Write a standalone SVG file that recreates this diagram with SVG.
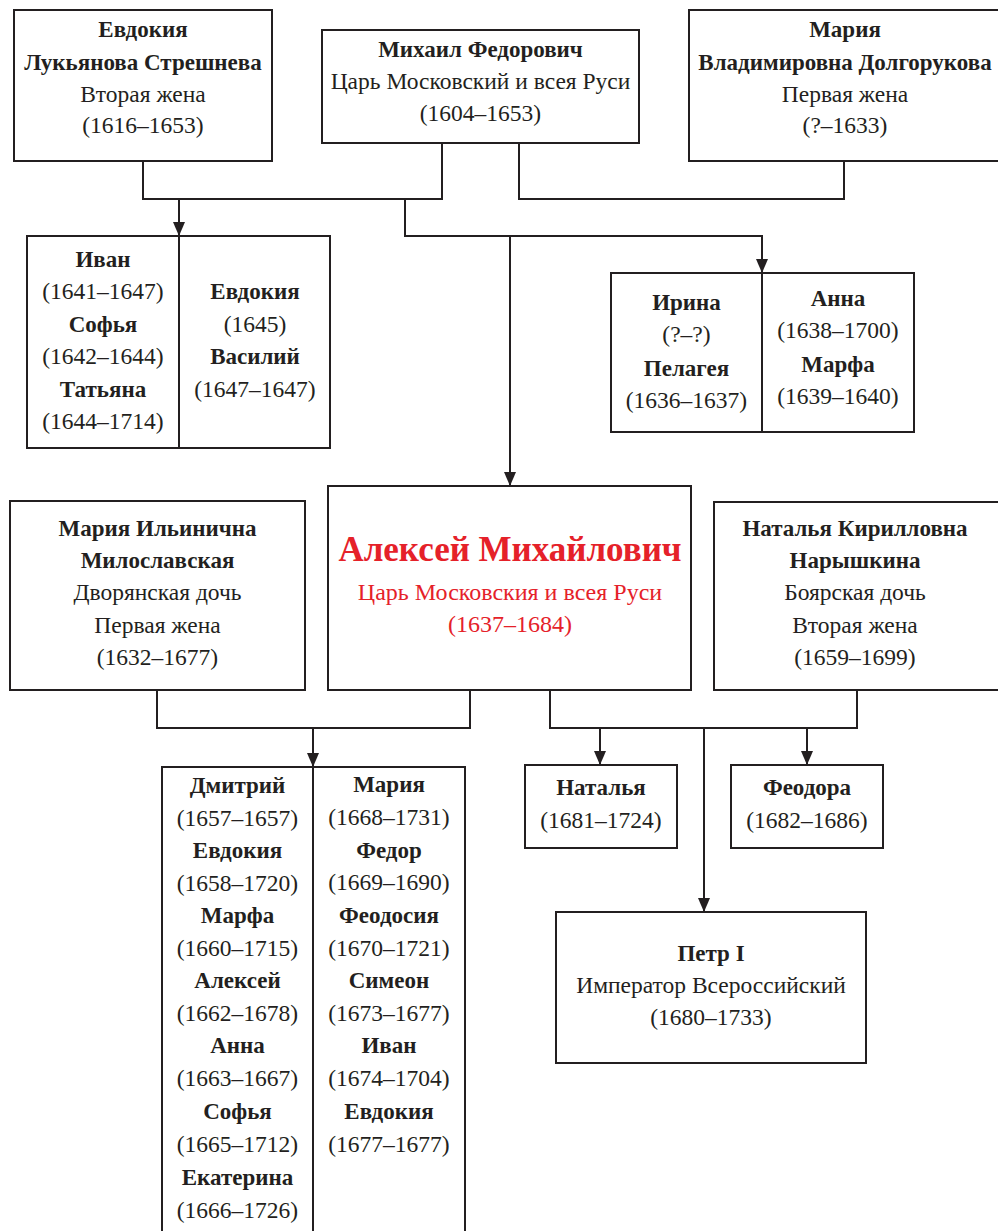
<svg xmlns="http://www.w3.org/2000/svg" width="998" height="1231" viewBox="0 0 998 1231">
<defs>
<marker id="arr" viewBox="0 0 14 12" refX="14" refY="6" markerWidth="14" markerHeight="12" markerUnits="userSpaceOnUse" orient="auto">
<path d="M0,0 L14,6 L0,12 Z" fill="#231f20"/>
</marker>
<style>
rect{fill:#fff;stroke:#231f20;stroke-width:2}
.div{stroke:#231f20;stroke-width:2}
.c path{fill:none;stroke:#231f20;stroke-width:2}
text{font-family:'Liberation Serif','DejaVu Serif',serif;font-size:23.5px;fill:#231f20;text-anchor:middle}
.b{font-weight:bold;font-size:23px}
.red{fill:#e52129;font-size:24px}
.big{font-size:35px;font-weight:bold}
</style>
</defs>
<rect x="0" y="0" width="998" height="1231" style="stroke:none"/>

<g id="connectors" class="c">
<path d="M143,161 V199 H442 V143"/>
<path d="M179,199 V236" marker-end="url(#arr)"/>
<path d="M519,143 V199 H844 V161"/>
<path d="M405,199 V236 H762 V273" marker-end="url(#arr)"/>
<path d="M510,236 V486" marker-end="url(#arr)"/>
<path d="M157,690 V728 H470 V690"/>
<path d="M313,728 V767" marker-end="url(#arr)"/>
<path d="M550,690 V728 H857 V690"/>
<path d="M600,728 V765" marker-end="url(#arr)"/>
<path d="M807,728 V765" marker-end="url(#arr)"/>
<path d="M704,728 V912" marker-end="url(#arr)"/>
</g>

<g id="evdokia-streshneva">
<rect x="14" y="10" width="258" height="151"/>
<text x="143" y="37" class="b">Евдокия</text>
<text x="143" y="70" class="b">Лукьянова Стрешнева</text>
<text x="143" y="102">Вторая жена</text>
<text x="143" y="133">(1616–1653)</text>
</g>

<g id="mikhail">
<rect x="322" y="30" width="317" height="113"/>
<text x="480.5" y="57" class="b">Михаил Федорович</text>
<text x="480.5" y="89">Царь Московский и всея Руси</text>
<text x="480.5" y="121">(1604–1653)</text>
</g>

<g id="maria-dolgorukova">
<rect x="689" y="10" width="312" height="151"/>
<text x="845" y="37" class="b">Мария</text>
<text x="845" y="70" class="b">Владимировна Долгорукова</text>
<text x="845" y="102">Первая жена</text>
<text x="845" y="133">(?–1633)</text>
</g>

<g id="children-streshneva">
<rect x="27" y="236" width="303" height="212"/>
<line class="div" x1="179" y1="236" x2="179" y2="448"/>
<text x="103" y="267" class="b">Иван</text>
<text x="103" y="299">(1641–1647)</text>
<text x="103" y="332" class="b">Софья</text>
<text x="103" y="364">(1642–1644)</text>
<text x="103" y="397" class="b">Татьяна</text>
<text x="103" y="429">(1644–1714)</text>
<text x="255" y="299" class="b">Евдокия</text>
<text x="255" y="332">(1645)</text>
<text x="255" y="364" class="b">Василий</text>
<text x="255" y="397">(1647–1647)</text>
</g>

<g id="children-dolgorukova">
<rect x="611" y="273" width="303" height="159"/>
<line class="div" x1="762" y1="273" x2="762" y2="432"/>
<text x="686.5" y="310" class="b">Ирина</text>
<text x="686.5" y="342">(?–?)</text>
<text x="686.5" y="376" class="b">Пелагея</text>
<text x="686.5" y="408">(1636–1637)</text>
<text x="838" y="306" class="b">Анна</text>
<text x="838" y="338">(1638–1700)</text>
<text x="838" y="372" class="b">Марфа</text>
<text x="838" y="404">(1639–1640)</text>
</g>

<g id="maria-miloslavskaya">
<rect x="10" y="501" width="295" height="189"/>
<text x="157.5" y="536" class="b">Мария Ильинична</text>
<text x="157.5" y="568" class="b">Милославская</text>
<text x="157.5" y="600">Дворянская дочь</text>
<text x="157.5" y="633">Первая жена</text>
<text x="157.5" y="665">(1632–1677)</text>
</g>

<g id="aleksei">
<rect x="328" y="486" width="363" height="204"/>
<text x="510" y="561" class="red big">Алексей Михайлович</text>
<text x="510" y="600" class="red">Царь Московския и всея Руси</text>
<text x="510" y="632" class="red">(1637–1684)</text>
</g>

<g id="natalya-naryshkina">
<rect x="714" y="502" width="290" height="188"/>
<text x="855" y="536" class="b">Наталья Кирилловна</text>
<text x="855" y="568" class="b">Нарышкина</text>
<text x="855" y="600">Боярская дочь</text>
<text x="855" y="633">Вторая жена</text>
<text x="855" y="665">(1659–1699)</text>
</g>

<g id="children-miloslavskaya">
<rect x="162" y="767" width="303" height="480"/>
<line class="div" x1="313" y1="767" x2="313" y2="1240"/>
<text x="237.5" y="793" class="b">Дмитрий</text>
<text x="237.5" y="826">(1657–1657)</text>
<text x="237.5" y="858" class="b">Евдокия</text>
<text x="237.5" y="891">(1658–1720)</text>
<text x="237.5" y="923" class="b">Марфа</text>
<text x="237.5" y="956">(1660–1715)</text>
<text x="237.5" y="988" class="b">Алексей</text>
<text x="237.5" y="1021">(1662–1678)</text>
<text x="237.5" y="1053" class="b">Анна</text>
<text x="237.5" y="1086">(1663–1667)</text>
<text x="237.5" y="1119" class="b">Софья</text>
<text x="237.5" y="1152">(1665–1712)</text>
<text x="237.5" y="1185" class="b">Екатерина</text>
<text x="237.5" y="1218">(1666–1726)</text>
<text x="389" y="792" class="b">Мария</text>
<text x="389" y="825">(1668–1731)</text>
<text x="389" y="858" class="b">Федор</text>
<text x="389" y="890">(1669–1690)</text>
<text x="389" y="923" class="b">Феодосия</text>
<text x="389" y="956">(1670–1721)</text>
<text x="389" y="988" class="b">Симеон</text>
<text x="389" y="1021">(1673–1677)</text>
<text x="389" y="1053" class="b">Иван</text>
<text x="389" y="1086">(1674–1704)</text>
<text x="389" y="1119" class="b">Евдокия</text>
<text x="389" y="1152">(1677–1677)</text>
</g>

<g id="natalya">
<rect x="525" y="765" width="152" height="83"/>
<text x="601" y="795" class="b">Наталья</text>
<text x="601" y="828">(1681–1724)</text>
</g>

<g id="feodora">
<rect x="731" y="765" width="152" height="83"/>
<text x="807" y="795" class="b">Феодора</text>
<text x="807" y="828">(1682–1686)</text>
</g>

<g id="petr">
<rect x="556" y="912" width="310" height="151"/>
<text x="711" y="961" class="b">Петр I</text>
<text x="711" y="993">Император Всероссийский</text>
<text x="711" y="1025">(1680–1733)</text>
</g>
</svg>
